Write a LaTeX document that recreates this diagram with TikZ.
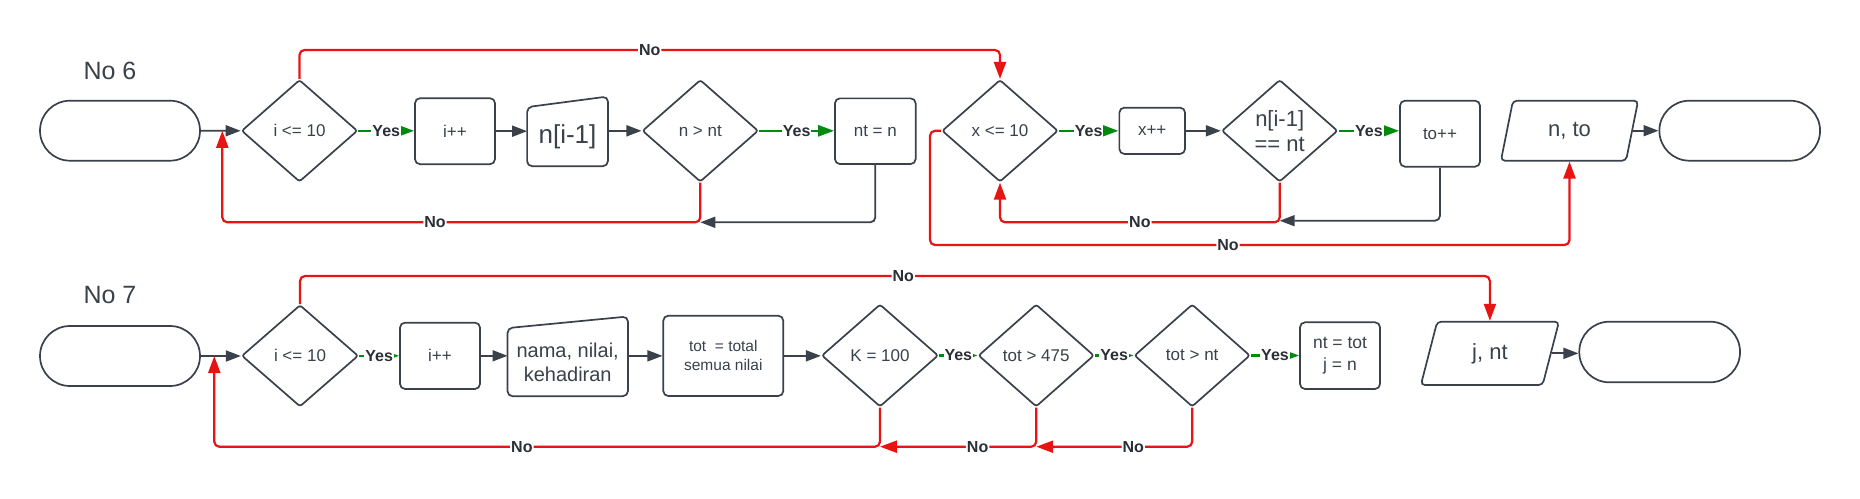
\documentclass[tikz,border=0pt]{standalone}
\usepackage{fontspec}
\setmainfont{Liberation Sans}
\usetikzlibrary{shapes.geometric, arrows.meta, calc}
\definecolor{dk}{HTML}{3A414A}
\definecolor{tx}{HTML}{3A414A}
\definecolor{rd}{HTML}{E81313}
\definecolor{gn}{HTML}{008A0E}
\definecolor{lb}{HTML}{2B2F36}
\tikzset{
 shp/.style={draw=dk, line width=1.7pt, text=tx, font=\fontsize{17}{20}\selectfont},
 term/.style={shp, rectangle, rounded corners=30pt, minimum width=160pt, minimum height=60pt, inner sep=0pt},
 proc/.style={shp, rectangle, rounded corners=5pt, inner sep=0pt},
 dec/.style={shp, diamond, rounded corners=2.5pt, inner sep=0pt, minimum width=116pt, minimum height=102pt},
 io/.style={shp, trapezium, trapezium left angle=75, trapezium right angle=105, trapezium stretches=true, rounded corners=4pt, inner sep=0pt},
 minp/.style={rectangle, inner sep=0pt, text=tx},
 hd/.style={inner sep=0pt, text=tx, font=\fontsize{25}{30}\selectfont},
 dkar/.style={draw=dk, line width=1.8pt, rounded corners=5pt, -{Triangle[length=15pt,width=11pt]}},
 rdar/.style={draw=rd, line width=2.2pt, rounded corners=5pt, -{Triangle[length=17pt,width=12pt]}},
 gnar/.style={draw=gn, line width=2.6pt, -{Triangle[length=16pt,width=11pt]}},
 lbl/.style={fill=white, inner sep=1pt, text=lb, font=\bfseries\fontsize{16}{19}\selectfont},
}
\begin{document}
\begin{tikzpicture}[x=1pt,y=1pt]
\fill[white] (0,0) rectangle (1860,-498);
\useasboundingbox (0,0) rectangle (1860,-498);

% ---------------- Row 1 ----------------
\node[hd] (t6) at (110,-70.5) {No 6};
\node[term] (s1) at (120,-130.7) {};
\node[dec] (d1) at (299.5,-130.8) {i <= 10};
\node[proc, minimum width=80pt, minimum height=66pt] (b1) at (455,-131.2) {i++};
\node[minp, minimum width=80.4pt, minimum height=58.7pt, font=\fontsize{26}{31}\selectfont] (m1) at (567.5,-136.65) {n[i-1]};
\draw[shp, rounded corners=5pt] (m1.south west) -- (m1.north west) -- ([yshift=10.6pt]m1.north east) -- (m1.south east) -- cycle;
\node[dec] (d2) at (700.3,-130.8) {n > nt};
\node[proc, minimum width=80.7pt, minimum height=65.7pt] (b2) at (875.3,-131.2) {nt = n};
\node[dec] (d3) at (1000,-130.8) {x <= 10};
\node[proc, minimum width=65.7pt, minimum height=46.3pt] (b3) at (1152.2,-130.8) {x++};
\node[dec, align=center, font=\fontsize{22}{25}\selectfont] (d4) at (1279.7,-130.8) {n[i-1]\\== nt};
\node[proc, minimum width=80pt, minimum height=66pt] (b4) at (1440,-133.7) {to++};
\node[io, minimum width=137.6pt, minimum height=60pt, font=\fontsize{22}{26}\selectfont] (p1) at (1569.5,-130.7) {n, to};
\node[term, minimum width=160.7pt] (e1) at (1739.7,-130.7) {};

\coordinate (r1) at (222.3,-130.8);
\coordinate (ya) at (0,-50);
\coordinate (yb) at (0,-222.3);
\coordinate (yb2) at (0,-220.7);
\coordinate (yc) at (0,-245);
\coordinate (xw) at (930,0);

\draw[dkar] (s1.east) -- (d1.west);
\draw[gnar] (d1.east) -- node[lbl]{Yes} (d1.east -| b1.west);
\draw[dkar] (b1.east) -- (b1.east -| m1.west);
\draw[dkar] (m1.east |- d2.west) -- (d2.west);
\draw[gnar] (d2.east) -- node[lbl]{Yes} (d2.east -| b2.west);
\draw[dkar] (b2.south) -- (b2.south |- yb) -- (d2.south |- yb);
\draw[rdar] (d2.south) -- (d2.south |- yb) -- node[lbl,pos=0.555]{No} (r1 |- yb) -- (r1);
\draw[rdar] (d1.north) -- (d1.north |- ya) -- node[lbl]{No} (d3.north |- ya) -- (d3.north);
\draw[gnar] (d3.east) -- node[lbl]{Yes} (d3.east -| b3.west);
\draw[dkar] (b3.east) -- (d4.west);
\draw[gnar] (d4.east) -- node[lbl]{Yes} (d4.east -| b4.west);
\draw[rdar] (d4.south) -- (d4.south |- yb) -- node[lbl]{No} (d3.south |- yb) -- (d3.south);
\draw[dkar] (b4.south) -- (b4.south |- yb2) -- (d4.south |- yb2);
\draw[rdar] (d3.west) -- (d3.west -| xw) -- (xw |- yc) -- node[lbl,pos=0.466]{No} (p1.south |- yc) -- (p1.south);
\draw[dkar] (p1.east) -- (p1.east -| e1.west);

% ---------------- Row 2 ----------------
\node[hd] (t7) at (110,-295.5) {No 7};
\node[term] (s2) at (120,-356) {};
\node[dec, minimum width=116.6pt, minimum height=101.7pt] (d5) at (300,-355.8) {i <= 10};
\node[proc, minimum width=80pt, minimum height=66.3pt] (b5) at (440,-355.8) {i++};
\node[minp, minimum width=120pt, minimum height=67.7pt, align=center, font=\fontsize{20}{24}\selectfont] (m2) at (567.7,-362.15) {nama, nilai,\\kehadiran};
\draw[shp, rounded corners=5pt] (m2.south west) -- (m2.north west) -- ([yshift=11.6pt]m2.north east) -- (m2.south east) -- cycle;
\node[proc, minimum width=120pt, minimum height=80.3pt, align=center, font=\fontsize{15.5}{19}\selectfont] (b6) at (723.3,-355.85) {tot\ \ = total\\semua nilai};
\node[dec, minimum width=116.6pt, minimum height=102.4pt] (d6) at (880,-355.5) {K = 100};
\node[dec, minimum width=115.7pt, minimum height=102.4pt] (d7) at (1036.2,-355.5) {tot > 475};
\node[dec, minimum width=115.7pt, minimum height=102.4pt] (d8) at (1192.2,-355.5) {tot > nt};
\node[proc, minimum width=80pt, minimum height=66.7pt, align=center, font=\fontsize{17.5}{21.7}\selectfont] (b7) at (1340,-355.65) {nt = tot\\j = n};
\node[io, minimum width=138.3pt, minimum height=63.3pt, font=\fontsize{22}{26}\selectfont] (p2) at (1489.9,-353.35) {j, nt};
\node[term, minimum width=160.7pt, minimum height=60.6pt] (e2) at (1659.65,-352) {};

\coordinate (r2) at (214.3,-356);
\coordinate (yd) at (0,-276);
\coordinate (ye) at (0,-446.7);

\draw[dkar] (s2.east) -- (s2.east -| d5.west);
\draw[gnar] (d5.east) -- node[lbl]{Yes} (d5.east -| b5.west);
\draw[dkar] (b5.east) -- (b5.east -| m2.west);
\draw[dkar] (m2.east |- b6.west) -- (b6.west);
\draw[dkar] (b6.east) -- (b6.east -| d6.west);
\draw[gnar] (d6.east) -- node[lbl]{Yes} (d7.west);
\draw[gnar] (d7.east) -- node[lbl]{Yes} (d8.west);
\draw[gnar] (d8.east) -- node[lbl]{Yes} (d8.east -| b7.west);
\draw[rdar] (d5.north) -- (d5.north |- yd) -- node[lbl,pos=0.507]{No} (p2.north |- yd) -- (p2.north);
\draw[rdar] (d6.south) -- (d6.south |- ye) -- node[lbl,pos=0.538]{No} (r2 |- ye) -- (r2);
\draw[rdar] (d7.south) -- (d7.south |- ye) -- node[lbl,pos=0.375]{No} (d6.south |- ye);
\draw[rdar] (d8.south) -- (d8.south |- ye) -- node[lbl,pos=0.378]{No} (d7.south |- ye);
\draw[dkar] (p2.east) -- (p2.east -| e2.west);
\end{tikzpicture}
\end{document}
